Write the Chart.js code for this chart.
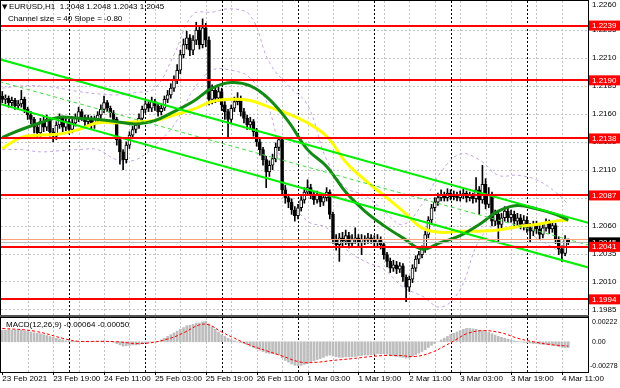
<!DOCTYPE html>
<html><head><meta charset="utf-8">
<script src="https://cdn.jsdelivr.net/npm/chart.js@4.4.1/dist/chart.umd.min.js"></script>
<style>
html,body{margin:0;padding:0;background:#fff;}
#wrap{position:relative;width:620px;height:388px;overflow:hidden;background:#fff;}
#c1{position:absolute;left:0;top:0;}
#c2{position:absolute;left:0;top:316px;}
</style></head><body>
<div id="wrap"><canvas id="c1" width="620" height="317"></canvas><canvas id="c2" width="620" height="72"></canvas></div>
<script>
// ---------- DATA ----------
const symbolTitle = "EURUSD,H1";
const channelText = "Channel size = 40 Slope = -0.80";
const timeLabels = ["23 Feb 2021","23 Feb 19:00","24 Feb 11:00","25 Feb 03:00","25 Feb 19:00","26 Feb 11:00","1 Mar 03:00","1 Mar 19:00","2 Mar 11:00","3 Mar 03:00","3 Mar 19:00","4 Mar 11:00"];
const timeLabelBars = [0,16,32,48,64,80,96,112,128,144,160,176];
const gridBars = [8,16,24,32,40,48,56,64,72,80,88,96,104,112,120,128,136,144,152,160,168,176];
const daySeparatorBars = [21,45,69,93,117,141,165];
const priceTicks = [1.2260,1.2235,1.2210,1.2185,1.2160,1.2135,1.2110,1.2085,1.2060,1.2035,1.2010,1.1985];
const priceTickLabels = ["1.2260","1.2235","1.2210","1.2185","1.2160","1.2135","1.2110","1.2085","1.2060","1.2035","1.2010","1.1985"];
const levels = [1.2239,1.2190,1.2138,1.2087,1.2041,1.1994];
const levelLabels = ["1.2239","1.2190","1.2138","1.2087","1.2041","1.1994"];
const bidPrice = 1.2045;
const salmonLinePrice = 1.2048;
const macdTicks = [0.00222,0,-0.00278];
const macdTickLabels = ["0.00222","0.00","-0.00278"];

const opens = [1.2176,1.2173,1.2174,1.2170,1.2172,1.2167,1.2169,1.2173,1.2164,1.2159,
1.2155,1.2148,1.2143,1.2153,1.2148,1.2155,1.2144,1.2140,1.2150,1.2156,
1.2148,1.2153,1.2146,1.2152,1.2156,1.2162,1.2157,1.2153,1.2156,1.2150,
1.2155,1.2159,1.2164,1.2170,1.2165,1.2161,1.2155,1.2137,1.2126,1.2119,
1.2132,1.2141,1.2146,1.2150,1.2156,1.2164,1.2169,1.2165,1.2171,1.2167,
1.2162,1.2165,1.2173,1.2177,1.2183,1.2190,1.2199,1.2213,1.2222,1.2228,
1.2217,1.2226,1.2235,1.2222,1.2237,1.2226,1.2173,1.2181,1.2174,1.2180,
1.2168,1.2162,1.2155,1.2165,1.2171,1.2174,1.2162,1.2156,1.2150,1.2153,
1.2144,1.2135,1.2128,1.2119,1.2108,1.2114,1.2120,1.2130,1.2137,1.2092,
1.2085,1.2081,1.2074,1.2069,1.2076,1.2083,1.2090,1.2094,1.2087,1.2083,
1.2087,1.2081,1.2085,1.2090,1.2070,1.2048,1.2043,1.2049,1.2046,1.2051,
1.2044,1.2048,1.2049,1.2045,1.2048,1.2047,1.2049,1.2048,1.2045,1.2048,
1.2043,1.2034,1.2028,1.2022,1.2025,1.2021,1.2024,1.2014,1.2005,1.2012,
1.2022,1.2030,1.2034,1.2039,1.2052,1.2065,1.2076,1.2081,1.2085,1.2087,
1.2085,1.2089,1.2086,1.2088,1.2085,1.2087,1.2089,1.2085,1.2087,1.2084,
1.2092,1.2083,1.2097,1.2079,1.2088,1.2064,1.2070,1.2061,1.2067,1.2073,
1.2067,1.2070,1.2064,1.2067,1.2061,1.2065,1.2058,1.2055,1.2061,1.2057,
1.2052,1.2058,1.2062,1.2057,1.2060,1.2048,1.2039,1.2035,1.2048];
const highs = [1.2180,1.2177,1.2176,1.2175,1.2174,1.2172,1.2181,1.2175,1.2166,1.2162,
1.2157,1.2151,1.2156,1.2157,1.2159,1.2157,1.2147,1.2153,1.2160,1.2158,
1.2156,1.2155,1.2155,1.2160,1.2166,1.2164,1.2159,1.2159,1.2158,1.2158,
1.2162,1.2168,1.2176,1.2172,1.2167,1.2163,1.2157,1.2139,1.2128,1.2135,
1.2144,1.2149,1.2153,1.2160,1.2167,1.2173,1.2171,1.2175,1.2173,1.2169,
1.2168,1.2176,1.2181,1.2187,1.2194,1.2204,1.2217,1.2227,1.2234,1.2231,
1.2230,1.2242,1.2238,1.2245,1.2241,1.2229,1.2186,1.2184,1.2184,1.2183,
1.2171,1.2164,1.2168,1.2175,1.2179,1.2176,1.2165,1.2159,1.2157,1.2155,
1.2147,1.2138,1.2130,1.2122,1.2118,1.2124,1.2134,1.2140,1.2139,1.2096,
1.2088,1.2084,1.2077,1.2079,1.2086,1.2094,1.2101,1.2097,1.2090,1.2091,
1.2089,1.2088,1.2094,1.2092,1.2072,1.2052,1.2053,1.2054,1.2056,1.2054,
1.2052,1.2058,1.2052,1.2052,1.2051,1.2053,1.2052,1.2051,1.2052,1.2050,
1.2045,1.2036,1.2031,1.2029,1.2028,1.2027,1.2026,1.2016,1.2015,1.2025,
1.2033,1.2037,1.2042,1.2055,1.2068,1.2079,1.2085,1.2089,1.2092,1.2090,
1.2093,1.2092,1.2091,1.2090,1.2091,1.2093,1.2091,1.2090,1.2089,1.2103,
1.2095,1.2114,1.2102,1.2094,1.2090,1.2074,1.2073,1.2071,1.2077,1.2076,
1.2074,1.2073,1.2071,1.2070,1.2069,1.2068,1.2062,1.2064,1.2064,1.2060,
1.2062,1.2066,1.2065,1.2064,1.2062,1.2050,1.2042,1.2051,1.2048];
const lows = [1.2170,1.2169,1.2166,1.2167,1.2164,1.2164,1.2166,1.2161,1.2155,1.2151,
1.2143,1.2138,1.2140,1.2144,1.2145,1.2140,1.2135,1.2137,1.2147,1.2144,
1.2145,1.2142,1.2143,1.2149,1.2153,1.2154,1.2149,1.2150,1.2146,1.2147,
1.2152,1.2156,1.2161,1.2162,1.2157,1.2151,1.2132,1.2115,1.2110,1.2116,
1.2129,1.2138,1.2143,1.2147,1.2153,1.2161,1.2162,1.2162,1.2163,1.2158,
1.2159,1.2163,1.2170,1.2174,1.2180,1.2187,1.2196,1.2210,1.2218,1.2212,
1.2213,1.2222,1.2218,1.2219,1.2220,1.2168,1.2169,1.2170,1.2171,1.2163,
1.2155,1.2139,1.2152,1.2162,1.2168,1.2158,1.2152,1.2146,1.2146,1.2140,
1.2131,1.2123,1.2114,1.2094,1.2104,1.2110,1.2117,1.2127,1.2088,1.2080,
1.2076,1.2070,1.2064,1.2066,1.2073,1.2080,1.2087,1.2084,1.2079,1.2080,
1.2077,1.2078,1.2082,1.2066,1.2044,1.2038,1.2028,1.2042,1.2043,1.2040,
1.2041,1.2044,1.2041,1.2034,1.2043,1.2044,1.2044,1.2041,1.2042,1.2039,
1.2030,1.2023,1.2018,1.2019,1.2017,1.2018,1.2010,1.1992,1.2001,1.2009,
1.2019,1.2026,1.2031,1.2036,1.2049,1.2062,1.2073,1.2078,1.2082,1.2082,
1.2082,1.2083,1.2083,1.2082,1.2082,1.2084,1.2081,1.2082,1.2080,1.2081,
1.2070,1.2080,1.2075,1.2076,1.2060,1.2060,1.2045,1.2057,1.2064,1.2063,
1.2063,1.2060,1.2060,1.2057,1.2056,1.2054,1.2045,1.2051,1.2053,1.2048,
1.2049,1.2055,1.2053,1.2054,1.2044,1.2034,1.2028,1.2033,1.2043];
const closes = [1.2173,1.2174,1.2170,1.2172,1.2167,1.2169,1.2173,1.2164,1.2159,1.2155,
1.2148,1.2143,1.2153,1.2148,1.2155,1.2144,1.2140,1.2150,1.2156,1.2148,
1.2153,1.2146,1.2152,1.2156,1.2162,1.2157,1.2153,1.2156,1.2150,1.2155,
1.2159,1.2164,1.2170,1.2165,1.2161,1.2155,1.2137,1.2126,1.2119,1.2132,
1.2141,1.2146,1.2150,1.2156,1.2164,1.2169,1.2165,1.2171,1.2167,1.2162,
1.2165,1.2173,1.2177,1.2183,1.2190,1.2199,1.2213,1.2222,1.2228,1.2217,
1.2226,1.2235,1.2222,1.2237,1.2226,1.2173,1.2181,1.2174,1.2180,1.2168,
1.2162,1.2155,1.2165,1.2171,1.2174,1.2162,1.2156,1.2150,1.2153,1.2144,
1.2135,1.2128,1.2119,1.2108,1.2114,1.2120,1.2130,1.2137,1.2092,1.2085,
1.2081,1.2074,1.2069,1.2076,1.2083,1.2090,1.2094,1.2087,1.2083,1.2087,
1.2081,1.2085,1.2090,1.2070,1.2048,1.2043,1.2049,1.2046,1.2051,1.2044,
1.2048,1.2049,1.2045,1.2048,1.2047,1.2049,1.2048,1.2045,1.2048,1.2043,
1.2034,1.2028,1.2022,1.2025,1.2021,1.2024,1.2014,1.2005,1.2012,1.2022,
1.2030,1.2034,1.2039,1.2052,1.2065,1.2076,1.2081,1.2085,1.2087,1.2085,
1.2089,1.2086,1.2088,1.2085,1.2087,1.2089,1.2085,1.2087,1.2084,1.2092,
1.2083,1.2097,1.2079,1.2088,1.2064,1.2070,1.2061,1.2067,1.2073,1.2067,
1.2070,1.2064,1.2067,1.2061,1.2065,1.2058,1.2055,1.2061,1.2057,1.2052,
1.2058,1.2062,1.2057,1.2060,1.2048,1.2039,1.2035,1.2048,1.2045];

// indicator samples (bar index -> value)
const maBars = [0,6,12,18,24,30,36,42,48,54,60,66,72,78,84,90,96,102,108,114,120,126,132,138,144,150,156,162,168,174,178];
const maYellow = [1.2129,1.2139,1.2141,1.2142,1.2146,1.2152,1.2152,1.2153,1.2154,1.2159,1.2164,1.2171,1.2173,1.2172,1.2166,1.2160,1.2152,1.2140,1.2117,1.2101,1.2087,1.2073,1.2058,1.2054,1.2055,1.2055,1.2056,1.2059,1.2061,1.2064,1.2065];
const maGreen = [1.2139,1.2146,1.2152,1.2157,1.2156,1.2155,1.2153,1.2151,1.2154,1.2162,1.2171,1.2183,1.2188,1.2185,1.2173,1.2153,1.2128,1.2113,1.2090,1.2073,1.2060,1.2049,1.2039,1.2045,1.2051,1.2061,1.2073,1.2078,1.2075,1.2070,1.2065];
const bandUpper = [1.2183,1.2185,1.2185,1.2183,1.2180,1.2178,1.2177,1.2179,1.2183,1.2213,1.2249,1.2251,1.2254,1.2248,1.2206,1.2185,1.2168,1.2119,1.2094,1.2087,1.2073,1.2061,1.2079,1.2108,1.2124,1.2119,1.2105,1.2105,1.2101,1.2090,1.2079];
const bandLower = [1.2128,1.2128,1.2126,1.2127,1.2128,1.2128,1.2119,1.2119,1.2132,1.2150,1.2181,1.2199,1.2199,1.2192,1.2164,1.2088,1.2064,1.2058,1.2039,1.2028,1.2021,1.2005,1.1997,1.1987,1.2003,1.2047,1.2062,1.2061,1.2049,1.2039,1.2031];
const channelBars = [-1,185];
const channelUpper = [1.2209,1.2062];
const channelMiddle = [1.2189,1.2042];
const channelLower = [1.2169,1.2022];

const macdHist = [0.00130,0.00130,0.00135,0.00130,0.00130,0.00130,0.00130,0.00120,0.00115,0.00110,
0.00100,0.00095,0.00090,0.00080,0.00070,0.00060,0.00050,0.00040,0.00030,0.00020,
0.00010,0.00010,0.00005,0.00005,0.00005,0.00000,0.00005,0.00005,0.00000,0.00005,
0.00005,0.00005,0.00010,0.00005,0.00000,-0.00005,-0.00020,-0.00035,-0.00050,-0.00045,
-0.00040,-0.00035,-0.00035,-0.00030,-0.00020,-0.00010,-0.00005,0.00000,0.00000,0.00005,
0.00020,0.00040,0.00060,0.00080,0.00100,0.00120,0.00140,0.00160,0.00180,0.00185,
0.00195,0.00210,0.00210,0.00225,0.00230,0.00200,0.00170,0.00140,0.00110,0.00080,
0.00060,0.00040,0.00025,0.00010,0.00000,-0.00010,-0.00020,-0.00035,-0.00050,-0.00065,
-0.00080,-0.00095,-0.00110,-0.00125,-0.00130,-0.00135,-0.00140,-0.00145,-0.00180,-0.00210,
-0.00230,-0.00250,-0.00265,-0.00270,-0.00265,-0.00255,-0.00245,-0.00230,-0.00215,-0.00200,
-0.00190,-0.00175,-0.00160,-0.00150,-0.00160,-0.00170,-0.00175,-0.00175,-0.00170,-0.00170,
-0.00170,-0.00165,-0.00160,-0.00155,-0.00150,-0.00150,-0.00145,-0.00140,-0.00135,-0.00135,
-0.00135,-0.00140,-0.00150,-0.00160,-0.00165,-0.00170,-0.00175,-0.00185,-0.00180,-0.00165,
-0.00145,-0.00130,-0.00110,-0.00090,-0.00065,-0.00040,-0.00020,0.00000,0.00020,0.00040,
0.00060,0.00080,0.00095,0.00110,0.00125,0.00140,0.00150,0.00150,0.00145,0.00140,
0.00130,0.00125,0.00115,0.00105,0.00090,0.00075,0.00060,0.00050,0.00040,0.00030,
0.00020,0.00010,0.00005,0.00000,-0.00005,-0.00010,-0.00015,-0.00020,-0.00020,-0.00025,
-0.00030,-0.00030,-0.00035,-0.00040,-0.00045,-0.00055,-0.00060,-0.00065,-0.00064];
const signalBars = [0,10,20,24,31,36,44,52,57,62,65,69,73,78,83,88,94,99,104,110,115,120,125,130,135,139,143,146,151,157,162,167,172,178];
const signalVals = [0.00150,0.00120,0.00030,0.00005,0.00005,0.00000,-0.00020,0.00030,0.00100,0.00190,0.00190,0.00110,0.00040,-0.00040,-0.00100,-0.00160,-0.00230,-0.00230,-0.00210,-0.00190,-0.00170,-0.00155,-0.00155,-0.00165,-0.00120,-0.00050,0.00030,0.00090,0.00125,0.00100,0.00040,0.00000,-0.00030,-0.00050];

// ---------- STYLE ----------
const FONT = '8px "Liberation Sans", Arial, sans-serif';
const SMALLFONT = '7px "Liberation Sans", Arial, sans-serif';
const GRID = '#c4c4c4';
const PURPLE = '#c8a2e8';
Chart.defaults.font.family = '"Liberation Sans", Arial, sans-serif';

function hline(ctx,x1,x2,y){ctx.beginPath();ctx.moveTo(x1,y);ctx.lineTo(x2,y);ctx.stroke();}
function vline(ctx,x,y1,y2){ctx.beginPath();ctx.moveTo(x,y1);ctx.lineTo(x,y2);ctx.stroke();}
function snap(v){return Math.round(v)+0.5;}

function drawVerticals(chart){
  const {ctx, chartArea:a, scales:{x}} = chart;
  ctx.save();
  ctx.lineWidth = 1;
  ctx.strokeStyle = GRID; ctx.setLineDash([2,2]);
  gridBars.forEach(b=>vline(ctx,snap(x.getPixelForValue(b)),a.top,a.bottom));
  ctx.strokeStyle = '#000'; ctx.setLineDash([2,2]);
  daySeparatorBars.forEach(b=>vline(ctx,snap(x.getPixelForValue(b)),a.top,a.bottom));
  ctx.restore();
}

const mainDecor = {
  id:'mainDecor',
  beforeDatasetsDraw(chart){
    const {ctx, chartArea:a, scales:{y}} = chart;
    ctx.save();
    ctx.lineWidth = 1; ctx.strokeStyle = GRID; ctx.setLineDash([2,2]);
    priceTicks.forEach(v=>{const py=snap(y.getPixelForValue(v)); if(py>a.top+2 && py<a.bottom-1) hline(ctx,a.left,a.right,py);});
    ctx.restore();
    drawVerticals(chart);
  },
  afterDatasetsDraw(chart){
    const {ctx, chartArea:a, scales:{y}} = chart;
    ctx.save();
    ctx.lineWidth = 1;
    ctx.strokeStyle = '#ffa07a'; hline(ctx,a.left,a.right,snap(y.getPixelForValue(salmonLinePrice)));
    ctx.strokeStyle = '#b8b8b8'; hline(ctx,a.left,a.right,snap(y.getPixelForValue(bidPrice)));
    ctx.lineWidth = 2; ctx.strokeStyle = '#ff0000';
    levels.forEach(v=>hline(ctx,a.left,a.right,Math.round(y.getPixelForValue(v))));
    ctx.restore();
  },
  afterDraw(chart){
    const {ctx, chartArea:a, scales:{y}} = chart;
    ctx.save();
    // frame
    ctx.strokeStyle = '#000'; ctx.lineWidth = 1;
    vline(ctx,0.5,0,a.bottom);
    hline(ctx,0,a.right+1,0.5);
    vline(ctx,a.right+0.5,0,a.bottom+2);
    ctx.strokeStyle = '#555'; ctx.lineWidth = 2;
    hline(ctx,0,a.right+1,a.bottom+1);
    // price axis
    ctx.font = FONT; ctx.textBaseline = 'middle'; ctx.textAlign = 'left';
    ctx.fillStyle = '#000';
    priceTicks.forEach((v,i)=>{
      const py = y.getPixelForValue(v);
      ctx.fillText(priceTickLabels[i], a.right+4, Math.max(py,4.5));
    });
    // bid label
    const bp = y.getPixelForValue(bidPrice);
    ctx.fillStyle = '#000'; ctx.fillRect(a.right+1, bp-5, 31, 10);
    ctx.fillStyle = '#fff'; ctx.fillText(bidPrice.toFixed(4), a.right+4, bp);
    // level labels
    levels.forEach((v,i)=>{
      const py = y.getPixelForValue(v);
      ctx.fillStyle = '#ff0000'; ctx.fillRect(a.right+1, py-5, 31, 10);
      ctx.fillStyle = '#fff'; ctx.fillText(levelLabels[i], a.right+4, py);
    });
    // header
    const n = closes.length-1;
    ctx.fillStyle = '#000';
    ctx.font = '7px "DejaVu Sans", sans-serif';
    ctx.fillText('\u25BC', 2, 7);
    ctx.font = FONT;
    ctx.fillText(symbolTitle+'  '+[opens[n],highs[n],lows[n],closes[n]].map(v=>v.toFixed(4)).join(' '), 9, 7);
    ctx.fillText(channelText, 8, 18.5);
    ctx.restore();
  }
};

const macdDecor = {
  id:'macdDecor',
  beforeDatasetsDraw(chart){ drawVerticals(chart); },
  afterDraw(chart){
    const {ctx, chartArea:a, scales:{x,y}} = chart;
    ctx.save();
    ctx.strokeStyle = '#000'; ctx.lineWidth = 1;
    vline(ctx,0.5,a.top,a.bottom+1);
    hline(ctx,0,a.right+1,a.top-0.5);
    hline(ctx,0,a.right+1,a.bottom+0.5);
    vline(ctx,a.right+0.5,0,a.bottom+1);
    ctx.textBaseline = 'middle'; ctx.textAlign = 'left'; ctx.fillStyle = '#000';
    ctx.font = SMALLFONT;
    macdTicks.forEach((v,i)=>{
      const py = y.getPixelForValue(v);
      const lbl = macdTickLabels[i];
      ctx.fillText(lbl, lbl.charAt(0)==='-' ? a.right+2 : a.right+4, py);
    });
    ctx.font = FONT;
    timeLabelBars.forEach((b,i)=>{
      const px = x.getPixelForValue(b);
      vline(ctx,snap(px),a.bottom,a.bottom+3);
      ctx.fillText(timeLabels[i], px, a.bottom+7);
    });
    const n = macdHist.length-1;
    ctx.fillText('MACD(12,26,9) '+macdHist[n].toFixed(5)+' '+signalVals[signalVals.length-1].toFixed(5), 6, 8.5);
    ctx.restore();
  }
};

const xScale = {type:'linear', min:-0.4, max:184.2, display:false, offset:false};
const pts = (bars, vals) => bars.map((b,i)=>({x:b, y:vals[i]}));
const lineDs = (bars, vals, color, width, dash, order) => ({type:'line', data:pts(bars,vals), borderColor:color, borderWidth:width, borderDash:dash, pointRadius:0, tension:0.4, fill:false, order});

new Chart(document.getElementById('c1'), {
  type:'bar',
  data:{datasets:[
    lineDs(maBars, bandUpper, PURPLE, 1, [3,3], 9),
    lineDs(maBars, bandLower, PURPLE, 1, [3,3], 9),
    {type:'bar', data: highs.map((h,i)=>({x:i, y:[lows[i], h]})), backgroundColor:'#000', borderWidth:0, barThickness:1, grouped:false, order:8},
    {type:'bar', data: closes.map((c,i)=>({x:i, y:[opens[i], c]})), backgroundColor: closes.map((c,i)=> c>=opens[i] ? '#ffffff' : '#000000'), borderColor:'#000', borderWidth:1, borderSkipped:false, barThickness:3, grouped:false, order:7},
    lineDs(maBars, maYellow, '#ffff00', 3, [], 5),
    lineDs(maBars, maGreen, '#138a13', 3, [], 4),
    lineDs(channelBars, channelMiddle, '#44dd44', 1, [4,3], 3),
    lineDs(channelBars, channelUpper, '#00ee00', 2, [], 2),
    lineDs(channelBars, channelLower, '#00ee00', 2, [], 2)
  ]},
  options:{
    responsive:false, animation:false, devicePixelRatio:1, events:[],
    layout:{padding:{left:1, top:1, right:32, bottom:2}},
    plugins:{legend:{display:false}, tooltip:{enabled:false}},
    scales:{ x:xScale, y:{type:'linear', min:1.1980, max:1.2261, display:false} }
  },
  plugins:[mainDecor]
});

new Chart(document.getElementById('c2'), {
  type:'bar',
  data:{datasets:[
    lineDs(signalBars, signalVals, '#ff0000', 1, [3,2], 1),
    {type:'bar', data: macdHist.map((v,i)=>({x:i, y:v})), backgroundColor:'#bdbdbd', borderWidth:0, barThickness:2, grouped:false, order:2}
  ]},
  options:{
    responsive:false, animation:false, devicePixelRatio:1, events:[],
    layout:{padding:{left:1, top:2, right:32, bottom:16}},
    plugins:{legend:{display:false}, tooltip:{enabled:false}},
    scales:{ x:xScale, y:{type:'linear', min:-0.0034, max:0.00267, display:false} }
  },
  plugins:[macdDecor]
});
</script>
</body></html>
